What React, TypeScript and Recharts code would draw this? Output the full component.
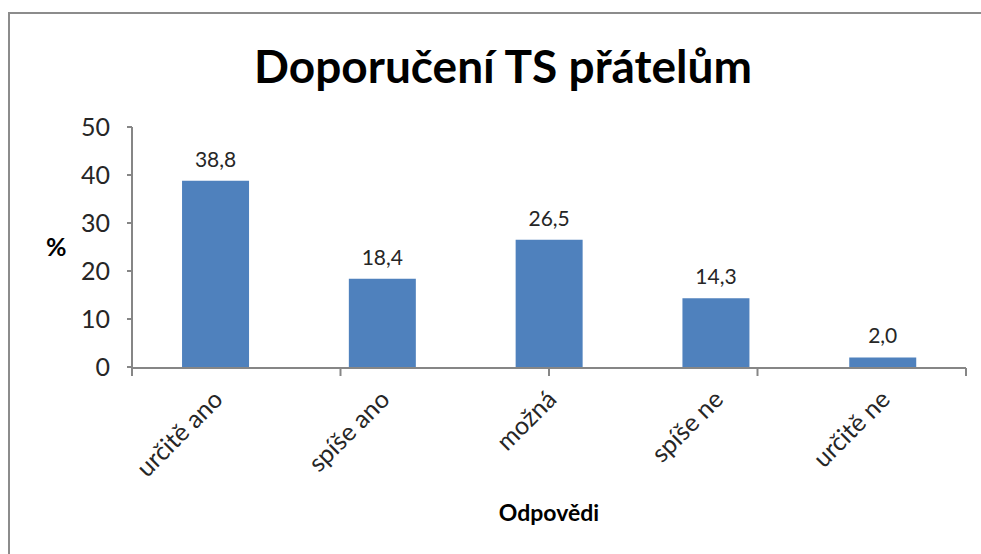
import React from 'react';
import { BarChart, Bar, XAxis, YAxis, LabelList, Label } from 'recharts';

const categories = ['určitě ano', 'spíše ano', 'možná', 'spíše ne', 'určitě ne'];
const values = [38.8, 18.4, 26.5, 14.3, 2.0];
const yTicks = [0, 10, 20, 30, 40, 50];
const boundaryTicks = [0, 1, 2, 3, 4, 5];

const data = categories.map((c, i) => ({ name: c, value: values[i] }));

const FONT = 'Lato, "Open Sans", sans-serif';

const CatTick = (props: any) => {
  const { x, y, payload } = props;
  return (
    <text
      x={0}
      y={0}
      transform={`translate(${x + 9},${y + 26}) rotate(-45)`}
      textAnchor="end"
      fontFamily={FONT}
      fontSize={25}
      fill="#262626"
    >
      {payload.value}
    </text>
  );
};

export default function App() {
  return (
    <div style={{ position: 'absolute', left: 0, top: 0, width: 981, height: 554, background: '#fff' }}>
      <div
        style={{
          position: 'absolute',
          left: 8,
          top: 12,
          width: 973,
          height: 542,
          borderTop: '2px solid #8c8c8c',
          borderLeft: '2px solid #8c8c8c',
          boxSizing: 'border-box',
        }}
      />
      <div style={{ position: 'absolute', left: 0, top: 0 }}>
        <BarChart
          width={981}
          height={554}
          data={data}
          margin={{ top: 127, right: 15, bottom: 27, left: 0 }}
          barCategoryGap="30%"
        >
          <text
            x={503}
            y={83}
            textAnchor="middle"
            fontFamily={FONT}
            fontWeight="bold"
            fontSize={46}
            fill="#000"
          >
            Doporučení TS přátelům
          </text>
          <XAxis
            xAxisId="cat"
            dataKey="name"
            type="category"
            height={1}
            axisLine={false}
            tickLine={false}
            interval={0}
            tick={<CatTick />}
          />
          <XAxis
            xAxisId="num"
            type="number"
            domain={[0, 5]}
            ticks={boundaryTicks}
            height={159}
            tickSize={8}
            tickFormatter={() => ''}
            axisLine={{ stroke: '#868686', strokeWidth: 2 }}
            tickLine={{ stroke: '#868686', strokeWidth: 2 }}
            allowDataOverflow
          >
            <Label
              value="Odpovědi"
              position="insideBottom"
              offset={6}
              fontFamily={FONT}
              fontWeight="bold"
              fontSize={23}
              fill="#000"
            />
          </XAxis>
          <YAxis
            width={132}
            domain={[0, 50]}
            ticks={yTicks}
            tickSize={5}
            tickMargin={17}
            axisLine={{ stroke: '#868686', strokeWidth: 2 }}
            tickLine={{ stroke: '#868686', strokeWidth: 2 }}
            tick={{ fontFamily: FONT, fontSize: 25, fill: '#262626' }}
          >
            <Label
              value="%"
              position="insideLeft"
              offset={46}
              fontFamily={FONT}
              fontWeight="bold"
              fontSize={25}
              fill="#000"
            />
          </YAxis>
          <Bar dataKey="value" xAxisId="cat" fill="#4F81BD" isAnimationActive={false}>
            <LabelList
              dataKey="value"
              position="top"
              offset={14}
              formatter={(v: any) => Number(v).toFixed(1).replace('.', ',')}
              style={{ fontFamily: FONT, fontSize: 21, fill: '#262626' }}
            />
          </Bar>
        </BarChart>
      </div>
    </div>
  );
}
